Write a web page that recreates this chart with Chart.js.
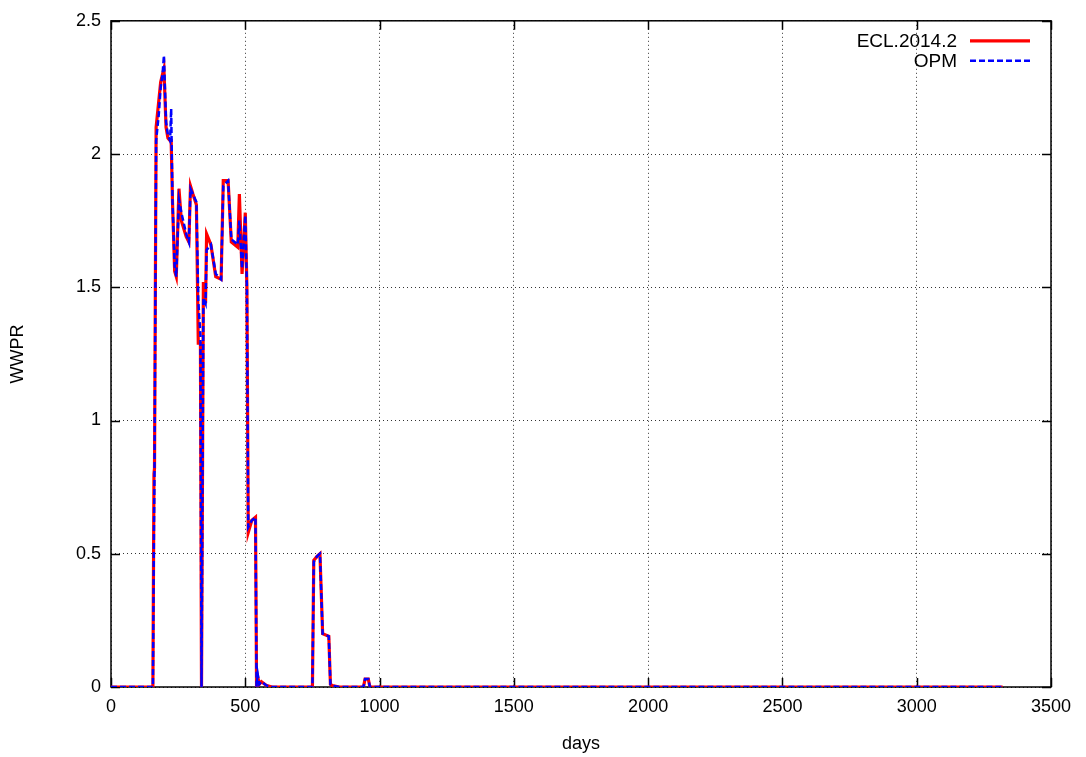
<!DOCTYPE html>
<html>
<head>
<meta charset="utf-8">
<script src="https://cdn.jsdelivr.net/npm/chart.js@4/dist/chart.umd.min.js"></script>
<style>
  html, body { margin: 0; padding: 0; background: #fff; }
  #wrap { width: 1086px; height: 757px; }
</style>
</head>
<body>
<div id="wrap"><canvas id="myChart" width="1086" height="757"></canvas></div>
<script>
// WWPR vs days
const days = [0, 156, 160, 162, 168, 178, 185, 192, 197, 205, 212, 220, 224, 229, 237, 243, 253, 262, 280, 290, 296,
  305, 318, 325, 333, 337, 344, 352, 356, 372, 390, 410, 418, 436, 448, 472, 478, 488, 500, 506, 511,
  524, 538, 542, 546, 552, 560, 580, 600, 750, 755, 767, 778, 788, 811, 817, 825, 850, 940, 946, 958,
  964, 3320];
const eclValues = [0, 0, 0.8, 0.82, 2.1, 2.2, 2.27, 2.30, 2.32, 2.10, 2.06, 2.05, 2.05, 1.82, 1.56, 1.54, 1.87, 1.75, 1.69, 1.67, 1.88,
  1.85, 1.81, 1.29, 1.29, 0, 1.52, 1.44, 1.70, 1.66, 1.54, 1.53, 1.90, 1.90, 1.67, 1.65, 1.85, 1.55, 1.78, 1.50, 0.58,
  0.625, 0.637, 0, 0.04, 0.01, 0.02, 0.005, 0, 0, 0.475, 0.49, 0.50, 0.20, 0.19, 0.01, 0.005, 0, 0, 0.03, 0.03,
  0, 0];
const opmValues = [0, 0, 0.6, 0.8, 2.05, 2.15, 2.25, 2.30, 2.37, 2.12, 2.07, 2.05, 2.17, 1.82, 1.58, 1.54, 1.83, 1.78, 1.70, 1.67, 1.87,
  1.85, 1.82, 1.45, 1.32, 0, 1.46, 1.44, 1.64, 1.66, 1.55, 1.53, 1.88, 1.90, 1.68, 1.66, 1.75, 1.57, 1.77, 1.50, 0.60,
  0.625, 0.637, 0, 0.05, 0.01, 0.02, 0.005, 0, 0, 0.47, 0.49, 0.50, 0.20, 0.19, 0.01, 0.005, 0, 0, 0.03, 0.03,
  0, 0];
const seriesLabels = ["ECL.2014.2", "OPM"];
const xTicks = [0, 500, 1000, 1500, 2000, 2500, 3000, 3500];
const yTicks = [0, 0.5, 1, 1.5, 2, 2.5];

const FONT = "'Liberation Sans', Arial, sans-serif";

function toPoints(vals) {
  return days.map((d, i) => ({ x: d, y: vals[i] }));
}

// gnuplot look: box round the plot, ticks pointing inward, legend text left of sample
const gnuplotFrame = {
  id: "gnuplotFrame",
  beforeDatasetsDraw(chart) {
    const { ctx, chartArea: a, scales: { x, y } } = chart;
    ctx.save();
    ctx.strokeStyle = "#000";
    ctx.lineWidth = 1.5;
    ctx.strokeRect(a.left, a.top, a.right - a.left, a.bottom - a.top);
    ctx.beginPath();
    xTicks.forEach(v => {
      const px = Math.round(x.getPixelForValue(v)) + 0.5;
      ctx.moveTo(px, a.bottom); ctx.lineTo(px, a.bottom - 9);
      ctx.moveTo(px, a.top); ctx.lineTo(px, a.top + 9);
    });
    yTicks.forEach(v => {
      const py = Math.round(y.getPixelForValue(v)) + 0.5;
      ctx.moveTo(a.left, py); ctx.lineTo(a.left + 9, py);
      ctx.moveTo(a.right, py); ctx.lineTo(a.right - 9, py);
    });
    ctx.stroke();
    ctx.restore();
  },
  afterDraw(chart) {
    const { ctx, chartArea: a } = chart;
    ctx.save();
    ctx.font = "19px " + FONT;
    ctx.textAlign = "right";
    ctx.textBaseline = "middle";
    chart.data.datasets.forEach((ds, i) => {
      const ly = a.top + 20 + i * 20;
      ctx.fillStyle = "#000";
      ctx.fillText(ds.label, a.right - 94, ly + 1);
      ctx.strokeStyle = ds.borderColor;
      ctx.lineWidth = ds.borderWidth;
      ctx.setLineDash(ds.borderDash || []);
      ctx.beginPath();
      ctx.moveTo(a.right - 81, ly);
      ctx.lineTo(a.right - 21, ly);
      ctx.stroke();
    });
    ctx.restore();
  }
};

const ctx = document.getElementById("myChart");
new Chart(ctx, {
  type: "line",
  data: {
    datasets: [
      {
        label: seriesLabels[0],
        data: toPoints(eclValues),
        borderColor: "#ff0000",
        borderWidth: 3.2,
        pointRadius: 0,
        tension: 0,
        order: 1
      },
      {
        label: seriesLabels[1],
        data: toPoints(opmValues),
        borderColor: "#0000ff",
        borderWidth: 2.5,
        borderDash: [6, 3],
        pointRadius: 0,
        tension: 0,
        order: 0
      }
    ]
  },
  options: {
    responsive: false,
    animation: false,
    layout: { padding: { top: 19, right: 35, left: 0, bottom: 0 } },
    plugins: { legend: { display: false }, tooltip: { enabled: false } },
    scales: {
      x: {
        type: "linear",
        min: 0,
        max: 3500,
        afterBuildTicks: s => { s.ticks = xTicks.map(v => ({ value: v })); },
        afterFit: s => { s.height = 70; },
        grid: { color: "rgba(0,0,0,0.8)", lineWidth: 1, drawTicks: false },
        border: { display: false, dash: [1, 3] },
        ticks: { color: "#000", padding: 9, font: { family: FONT, size: 18 }, maxRotation: 0, callback: v => String(v) },
        title: { display: true, text: "days", color: "#000", font: { family: FONT, size: 18 }, padding: { top: 0, bottom: 2 } }
      },
      y: {
        min: 0,
        max: 2.5,
        afterBuildTicks: s => { s.ticks = yTicks.map(v => ({ value: v })); },
        afterFit: s => { s.width = 111; },
        grid: { color: "rgba(0,0,0,0.8)", lineWidth: 1, drawTicks: false },
        border: { display: false, dash: [1, 3] },
        ticks: { color: "#000", padding: 10, font: { family: FONT, size: 18 }, callback: v => String(v) },
        title: { display: true, text: "WWPR", color: "#000", font: { family: FONT, size: 18 }, padding: { top: 7, bottom: 0 } }
      }
    }
  },
  plugins: [gnuplotFrame]
});
</script>
</body>
</html>
